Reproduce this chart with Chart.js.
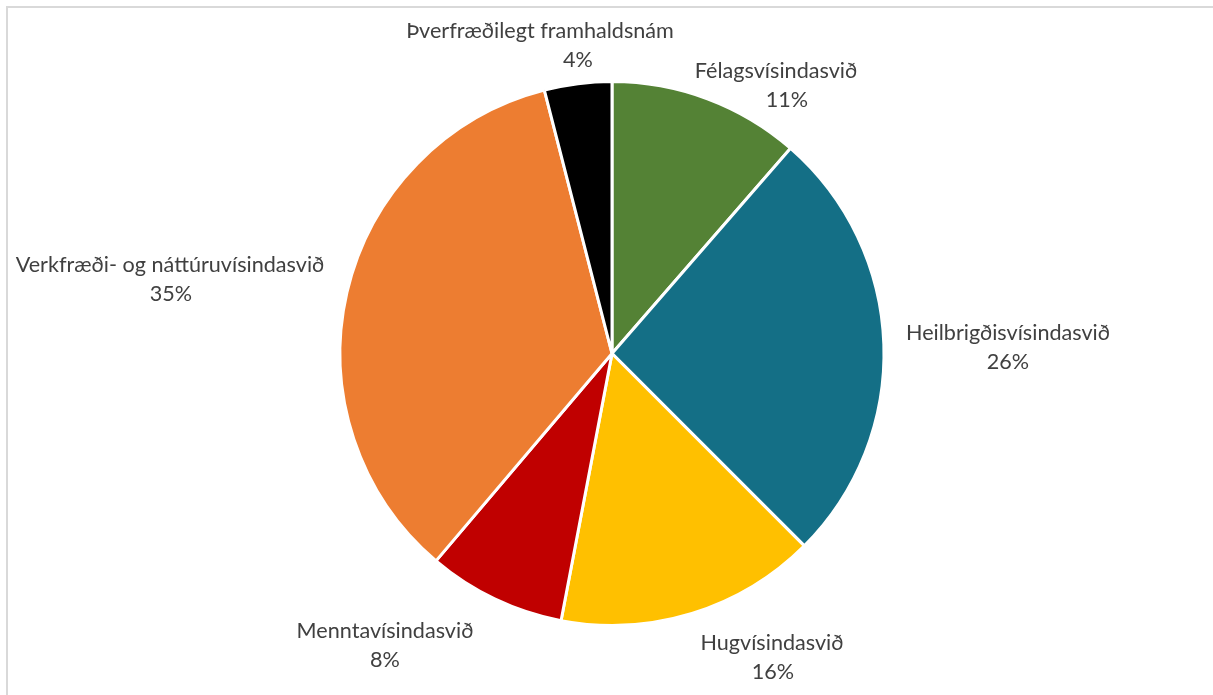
<!DOCTYPE html>
<html>
<head>
<meta charset="utf-8">
<script src="https://cdn.jsdelivr.net/npm/chart.js@4.4.1/dist/chart.umd.min.js"></script>
<style>
  html, body { margin: 0; padding: 0; background: #fff; }
  #wrap { position: relative; width: 1213px; height: 695px; }
</style>
</head>
<body>
<div id="wrap"><canvas id="chart"></canvas></div>
<script>
// data (share of total, %)
const categories = [
  'Félagsvísindasvið',
  'Heilbrigðisvísindasvið',
  'Hugvísindasvið',
  'Menntavísindasvið',
  'Verkfræði- og náttúruvísindasvið',
  'Þverfræðilegt framhaldsnám'
];
const shares = [11.4, 26.1, 15.5, 8.2, 34.8, 4.0];
const sliceColors = ['#548235', '#146F86', '#FFC000', '#C00000', '#ED7D31', '#000000'];

// where each data label sits: [nameX, nameY, pctX, pctY]
const labelSpots = [
  [776, 71, 787, 100],
  [1008, 333, 1008, 362],
  [772, 643, 773, 672],
  [385, 631, 385, 660],
  [170, 265, 171, 294],
  [540, 31, 578, 60]
];

const frame = {
  id: 'frame',
  beforeDraw(chart) {
    const ctx = chart.ctx;
    ctx.save();
    ctx.strokeStyle = '#d9d9d9';
    ctx.lineWidth = 2;
    ctx.strokeRect(7, 7, 1220, 700);
    ctx.restore();
  }
};

const pieLabels = {
  id: 'pieLabels',
  afterDatasetsDraw(chart) {
    const ctx = chart.ctx;
    const data = chart.data.datasets[0].data;
    const total = data.reduce((a, b) => a + b, 0);
    ctx.save();
    ctx.font = '21.6px Lato';
    ctx.fillStyle = '#404040';
    ctx.textAlign = 'center';
    ctx.textBaseline = 'middle';
    chart.data.labels.forEach((name, i) => {
      const p = labelSpots[i];
      ctx.fillText(name, p[0], p[1]);
      ctx.fillText(Math.round(data[i] / total * 100) + '%', p[2], p[3]);
    });
    ctx.restore();
  }
};

new Chart(document.getElementById('chart'), {
  type: 'pie',
  data: {
    labels: categories,
    datasets: [{
      data: shares,
      backgroundColor: sliceColors,
      borderColor: '#ffffff',
      borderWidth: 3
    }]
  },
  options: {
    responsive: true,
    maintainAspectRatio: false,
    animation: false,
    layout: { padding: { top: 80, bottom: 68, left: 100, right: 89 } },
    plugins: {
      legend: { display: false },
      tooltip: { enabled: false }
    }
  },
  plugins: [frame, pieLabels]
});
</script>
</body>
</html>
